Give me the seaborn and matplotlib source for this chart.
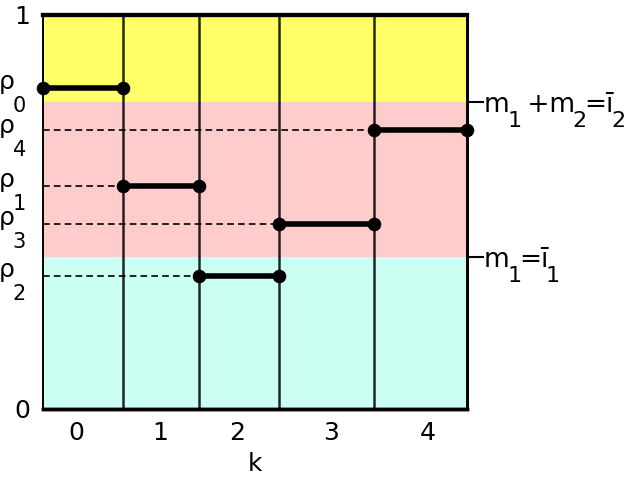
import numpy as np
import pandas as pd
import seaborn as sns
import matplotlib.pyplot as plt

# data
k_labels = ["0", "1", "2", "3", "4"]
k_pos = [0.078, 0.276, 0.458, 0.679, 0.908]      # where the k labels sit
bounds = [0.0, 0.188, 0.369, 0.557, 0.781, 1.0]   # interval edges along k
rho = [0.815, 0.567, 0.338, 0.470, 0.707]         # rho_0 .. rho_4
rho_subs = ["0", "1", "2", "3", "4"]
levels = [0.386, 0.779]                           # m1, m1+m2
level_pieces = [
    [("m", 0), ("1", 1), ("=ī", 0), ("1", 1)],
    [("m", 0), ("1", 1), (" +m", 0), ("2", 1), ("=ī", 0), ("2", 1)],
]
band_colors = ["#ccfff3", "#ffcccc", "#ffff66"]

sns.set_style("white")
plt.rcParams["font.family"] = ["DejaVu Sans"]
plt.rcParams["text.color"] = "black"
plt.rcParams["xtick.color"] = "black"
plt.rcParams["ytick.color"] = "black"
plt.rcParams["axes.labelcolor"] = "black"

FS = 18

fig = plt.figure(figsize=(6.29, 4.8), dpi=100)
ax = fig.add_axes([0.0684, 0.148, 0.674, 0.821])
renderer = fig.canvas.get_renderer()

# background bands
edges = [0.0] + levels + [1.0]
for i in range(3):
    ax.axhspan(edges[i], edges[i + 1], color=band_colors[i], lw=0, zorder=0)

# vertical separators
for b in bounds[1:-1]:
    ax.axvline(b, color="black", alpha=0.85, lw=1.8, zorder=1)

# dashed guides from the axis to each step
for i in range(1, len(rho)):
    ax.plot([0, bounds[i]], [rho[i], rho[i]], color="black", lw=1.2,
            ls=(0, (4, 2.5)), zorder=2)

# steps
seg = pd.DataFrame({
    "x": [bounds[i + j] for i in range(len(rho)) for j in (0, 1)],
    "y": [rho[i] for i in range(len(rho)) for j in (0, 1)],
    "seg": [i for i in range(len(rho)) for j in (0, 1)],
})
sns.lineplot(data=seg, x="x", y="y", units="seg", estimator=None, color="black",
             lw=4, marker="o", ms=9, mec="black", ax=ax, clip_on=False, zorder=5)

ax.set_xlim(0, 1)
ax.set_ylim(0, 1)
ax.set_xticks(k_pos, k_labels)
ax.set_yticks([0, 1], ["0", "1"])
ax.tick_params(axis="both", length=0, labelsize=FS)
ax.tick_params(axis="x", pad=9)
ax.tick_params(axis="y", pad=9)
ax.set_xlabel("k", fontsize=FS, labelpad=5)
ax.set_ylabel("")


def sub_label(pieces, y, side, x_off, base_dy, drop, fs, fs_sub, gap):
    # text with big, low subscripts, laid out piece by piece (pixels)
    arts = []
    for s, is_sub in pieces:
        t = ax.annotate(s, xy=(0 if side == "left" else 1, y),
                        xycoords=("axes fraction", "data"), xytext=(0, 0),
                        textcoords="offset pixels", fontsize=fs_sub if is_sub else fs,
                        ha="left", va="baseline", annotation_clip=False)
        arts.append((t, t.get_window_extent(renderer).width, is_sub))
    total = sum(a[1] for a in arts) + gap * (len(arts) - 1)
    x = x_off - total if side == "left" else x_off
    for t, w, is_sub in arts:
        t.xyann = (x, base_dy - (drop if is_sub else 0))
        x += w + gap


# rho labels on the left
for i in range(len(rho)):
    sub_label([("ρ", 0), (rho_subs[i], 1)], rho[i], "left", -17,
              -3 if i == 4 else -1, 23, 18, 15, -2)

# right side levels
ax2 = ax.twinx()
ax2.set_ylim(0, 1)
ax2.set_yticks(levels, ["", ""])
ax2.tick_params(axis="y", length=12, width=1.5)
ax2.grid(False)
for i in range(len(levels)):
    sub_label(level_pieces[i], levels[i], "right", 17, -10, 15, 19, 16, -2.5)

for a in (ax, ax2):
    for s in a.spines.values():
        s.set_color("black")
    a.spines["top"].set_linewidth(3)
    a.spines["bottom"].set_linewidth(2.5)
    a.spines["right"].set_linewidth(2)
    a.spines["left"].set_linewidth(1.2)

fig.savefig("out.png", dpi=100)
